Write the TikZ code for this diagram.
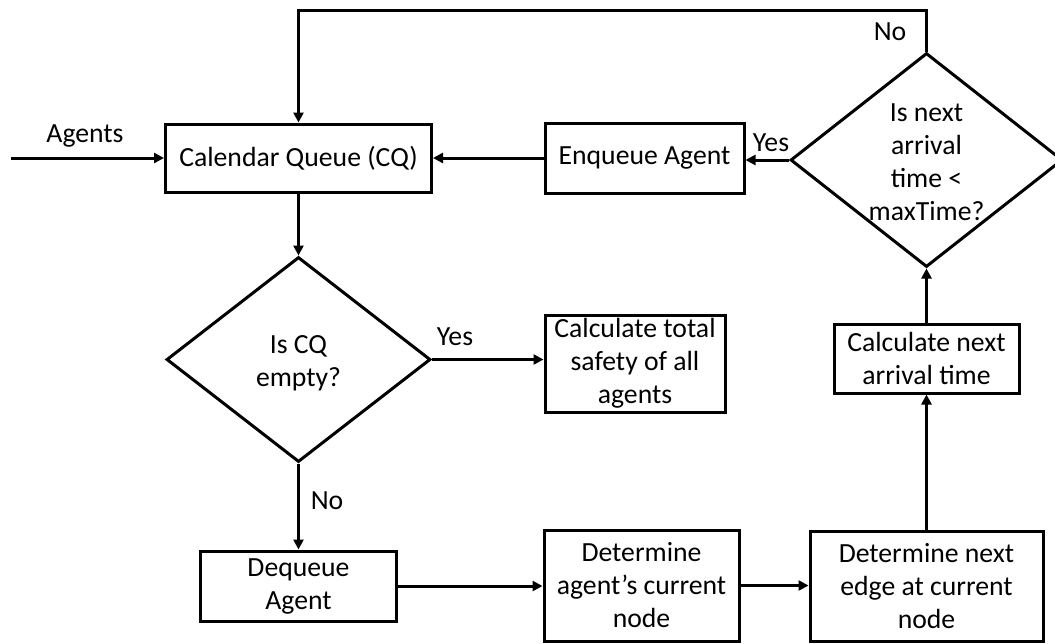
\documentclass[tikz,border=0pt]{standalone}
\usepackage{fontspec}
\setmainfont{Carlito}
\usetikzlibrary{shapes.geometric,arrows.meta}

\tikzset{
  flowbox/.style={draw, line width=3pt, rectangle, inner sep=0pt, align=center},
  decision/.style={draw, line width=3pt, diamond, inner sep=0pt},
  txt/.style={align=center, inner sep=0pt},
  flow/.style={line width=3pt, -{Triangle[length=10pt,width=10pt]}},
  every node/.style={font=\fontsize{27.7}{33}\selectfont}
}

\begin{document}
\begin{tikzpicture}[x=1pt,y=-1pt]
  \useasboundingbox (0,0) rectangle (1055,643);

  % process boxes
  \node[flowbox, minimum width=266pt, minimum height=68pt]  (cq)       at (298.5,158)   {Calendar Queue (CQ)};
  \node[flowbox, minimum width=199pt, minimum height=70pt]  (enq)      at (644.5,158)   {Enqueue Agent};
  \node[flowbox, minimum width=180pt, minimum height=97pt]  (calctot)  at (635,363.5)   {Calculate total\\safety of all\\agents};
  \node[flowbox, minimum width=196pt, minimum height=70pt]  (deq)      at (298.5,586)   {Dequeue\\Agent};
  \node[flowbox, minimum width=195pt, minimum height=111pt] (detagent) at (641.5,585.5) {Determine\\agent’s current\\node};
  \node[flowbox, minimum width=233pt, minimum height=110pt] (detedge)  at (926.5,586)   {Determine next\\edge at current\\node};
  \node[flowbox, minimum width=185pt, minimum height=69pt]  (calcnext) at (926.5,358.5) {Calculate next\\arrival time};

  % decisions
  \node[decision, minimum width=264pt, minimum height=205pt] (isempty) at (298.5,359.5) {};
  \node[txt] (isemptytxt) at (298.5,363) {Is CQ\\empty?};
  \node[decision, minimum width=272pt, minimum height=214pt] (ismax) at (926.5,160) {};
  \node[txt] (ismaxtxt) at (926.5,162) {Is next\\arrival\\time <\\maxTime?};

  % connectors
  \coordinate (inlet) at (11,158);
  \draw[flow] (inlet) -- (cq.west);
  \node (agentslbl) at (85,136) {Agents};

  \draw[flow] (enq.west) -- (cq.east);
  \draw[flow] (ismax.west) -- (ismax.west -| enq.east);
  \node (yes1) at (771,143) {Yes};

  \coordinate (loopR) at (926.5,10);
  \draw[flow] (ismax.north) -- (loopR) -| (cq.north);
  \node (no1) at (890,32) {No};

  \draw[flow] (cq.south) -- (isempty.north);
  \draw[flow] (isempty.east) -- (isempty.east -| calctot.west);
  \node (yes2) at (455,337) {Yes};

  \draw[flow] (isempty.south) -- (deq.north);
  \node (no2) at (327,501) {No};

  \draw[flow] (deq.east) -- (deq.east -| detagent.west);
  \draw[flow] (detagent.east) -- (detagent.east -| detedge.west);
  \draw[flow] (detedge.north) -- (calcnext.south);
  \draw[flow] (calcnext.north) -- (ismax.south);
\end{tikzpicture}
\end{document}
